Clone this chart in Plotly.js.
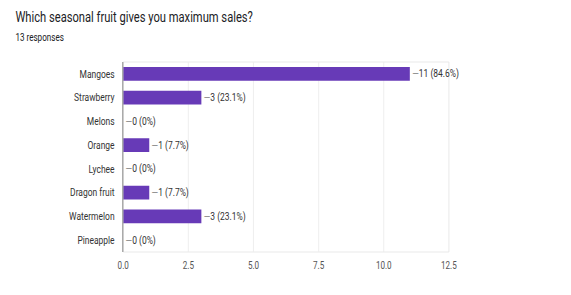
<!DOCTYPE html>
<html><head><meta charset="utf-8">
<script src="https://cdn.plot.ly/plotly-3.0.1.min.js"></script>
<style>html,body{margin:0;background:#fff;overflow:hidden;width:571px;height:295px}
#c{width:742px;height:295px;transform:scaleX(0.77);transform-origin:0 0}</style>
</head><body><div id="c"></div>
<script>
const categories = ["Mangoes","Strawberry","Melons","Orange","Lychee","Dragon fruit","Watermelon","Pineapple"];
const counts = [11,3,0,1,0,1,3,0];
const percents = ["84.6%","23.1%","0%","7.7%","0%","7.7%","23.1%","0%"];
const tickVals = [0,2.5,5,7.5,10,12.5];
const tickText = ["0.0","2.5","5.0","7.5","10.0","12.5"];
const title = "Which seasonal fruit gives you maximum sales?";
const subtitle = "13 responses";

const FONT = 'Roboto, Arial, sans-serif';
const labels = counts.map((c,i)=>"<span style='color:#8a8a8a'>—</span>"+c+" ("+percents[i]+")");
const W = 742, L = 160, R = 159;
const PW = W-L-R, PH = 295-62-43;

Plotly.newPlot('c',[{
  type:'bar', orientation:'h', x:counts, y:categories,
  marker:{color:'#673ab7'}, width:0.58,
  text:labels, textposition:'outside', cliponaxis:false,
  textfont:{family:FONT, size:11, color:'#333'},
  hoverinfo:'none'
}],{
  width:W, height:295,
  margin:{l:L,r:R,t:62,b:43},
  paper_bgcolor:'#fff', plot_bgcolor:'#fff',
  font:{family:FONT},
  showlegend:false,
  xaxis:{range:[0,12.5], tickvals:tickVals, ticktext:tickText, showgrid:true, gridcolor:'#ececec', gridwidth:1,
    zeroline:false, showline:false, tickfont:{size:10.5,color:'#555'}, ticks:'', ticklen:0, ticklabelstandoff:6, automargin:false, fixedrange:true},
  yaxis:{categoryorder:'array', categoryarray:categories, autorange:'reversed', showline:true, linecolor:'#777', linewidth:1,
    showgrid:false, zeroline:false, tickfont:{size:11,color:'#333'}, ticks:'', ticklabelstandoff:8, automargin:false, fixedrange:true},
  shapes:[{type:'rect', xref:'paper', yref:'paper', x0:0, x1:1, y0:0, y1:1, line:{color:'#e6e6e6', width:1}, layer:'below'}],
  annotations:[
    {xref:'paper', yref:'paper', x:(18-L)/PW, y:1+(62-18)/PH, xanchor:'left', yanchor:'middle', showarrow:false,
     text:title, font:{size:14.5, color:'#202124'}},
    {xref:'paper', yref:'paper', x:(18-L)/PW, y:1+(62-37)/PH, xanchor:'left', yanchor:'middle', showarrow:false,
     text:subtitle, font:{size:10.5, color:'#202124'}}
  ]
},{displayModeBar:false, staticPlot:true});
</script></body></html>
